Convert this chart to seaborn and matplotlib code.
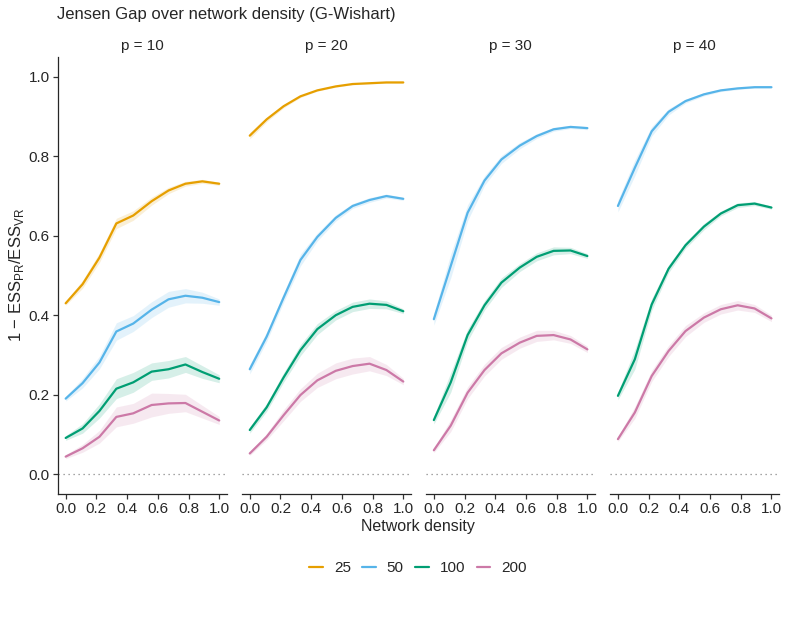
import pandas as pd
import matplotlib
matplotlib.use("Agg")
from matplotlib import pyplot as plt
from matplotlib.lines import Line2D
import seaborn as sns

# network density grid (x)
density = [0.0, 0.11, 0.22, 0.33, 0.44, 0.56, 0.67, 0.78, 0.89, 1.0]
panels = [10, 20, 30, 40]
sample_sizes = ["25", "50", "100", "200"]
colors = ["#E69F00", "#56B4E9", "#009E73", "#CC79A7"]

# mean Jensen gap per (p, n)
p10_n25 = [0.430, 0.478, 0.545, 0.631, 0.651, 0.687, 0.714, 0.731, 0.737, 0.731]
p10_n50 = [0.190, 0.229, 0.281, 0.359, 0.379, 0.414, 0.440, 0.449, 0.444, 0.433]
p10_n100 = [0.091, 0.115, 0.159, 0.215, 0.231, 0.258, 0.264, 0.276, 0.257, 0.240]
p10_n200 = [0.044, 0.065, 0.094, 0.144, 0.153, 0.174, 0.178, 0.179, 0.157, 0.135]

p20_n25 = [0.852, 0.893, 0.926, 0.951, 0.966, 0.976, 0.982, 0.984, 0.986, 0.986]
p20_n50 = [0.264, 0.346, 0.444, 0.539, 0.597, 0.645, 0.675, 0.690, 0.700, 0.693]
p20_n100 = [0.111, 0.168, 0.243, 0.312, 0.365, 0.400, 0.421, 0.429, 0.426, 0.410]
p20_n200 = [0.052, 0.094, 0.148, 0.199, 0.236, 0.260, 0.272, 0.278, 0.262, 0.233]

p30_n50 = [0.390, 0.524, 0.658, 0.739, 0.792, 0.827, 0.851, 0.868, 0.874, 0.871]
p30_n100 = [0.136, 0.231, 0.350, 0.425, 0.482, 0.520, 0.547, 0.562, 0.563, 0.549]
p30_n200 = [0.060, 0.122, 0.205, 0.262, 0.304, 0.331, 0.348, 0.350, 0.339, 0.314]

p40_n50 = [0.675, 0.771, 0.863, 0.912, 0.939, 0.956, 0.966, 0.971, 0.974, 0.974]
p40_n100 = [0.197, 0.289, 0.427, 0.517, 0.576, 0.623, 0.656, 0.677, 0.681, 0.671]
p40_n200 = [0.088, 0.155, 0.247, 0.310, 0.360, 0.394, 0.415, 0.425, 0.417, 0.392]

# ribbon half-widths
p10_n25_hw = [0.005, 0.010, 0.012, 0.013, 0.012, 0.010, 0.008, 0.006, 0.005, 0.004]
p10_n50_hw = [0.006, 0.012, 0.016, 0.022, 0.020, 0.020, 0.020, 0.018, 0.014, 0.008]
p10_n100_hw = [0.006, 0.012, 0.018, 0.025, 0.025, 0.022, 0.022, 0.020, 0.016, 0.010]
p10_n200_hw = [0.005, 0.010, 0.016, 0.025, 0.025, 0.030, 0.025, 0.022, 0.016, 0.010]

p20_n25_hw = [0.008, 0.006, 0.004, 0.003, 0.002, 0.002, 0.002, 0.002, 0.002, 0.002]
p20_n50_hw = [0.012, 0.012, 0.012, 0.015, 0.010, 0.008, 0.006, 0.006, 0.005, 0.004]
p20_n100_hw = [0.008, 0.010, 0.012, 0.014, 0.014, 0.012, 0.012, 0.012, 0.010, 0.006]
p20_n200_hw = [0.005, 0.008, 0.014, 0.016, 0.018, 0.020, 0.020, 0.018, 0.014, 0.008]

p30_n50_hw = [0.015, 0.030, 0.020, 0.012, 0.010, 0.008, 0.006, 0.005, 0.004, 0.004]
p30_n100_hw = [0.010, 0.025, 0.015, 0.012, 0.012, 0.010, 0.010, 0.010, 0.008, 0.006]
p30_n200_hw = [0.006, 0.015, 0.015, 0.015, 0.015, 0.014, 0.014, 0.012, 0.010, 0.008]

p40_n50_hw = [0.015, 0.020, 0.012, 0.008, 0.005, 0.004, 0.003, 0.003, 0.002, 0.002]
p40_n100_hw = [0.010, 0.025, 0.015, 0.010, 0.008, 0.008, 0.006, 0.006, 0.005, 0.004]
p40_n200_hw = [0.006, 0.015, 0.014, 0.014, 0.014, 0.012, 0.012, 0.012, 0.010, 0.008]

series = {
    (10, "25"): (p10_n25, p10_n25_hw),
    (10, "50"): (p10_n50, p10_n50_hw),
    (10, "100"): (p10_n100, p10_n100_hw),
    (10, "200"): (p10_n200, p10_n200_hw),
    (20, "25"): (p20_n25, p20_n25_hw),
    (20, "50"): (p20_n50, p20_n50_hw),
    (20, "100"): (p20_n100, p20_n100_hw),
    (20, "200"): (p20_n200, p20_n200_hw),
    (30, "50"): (p30_n50, p30_n50_hw),
    (30, "100"): (p30_n100, p30_n100_hw),
    (30, "200"): (p30_n200, p30_n200_hw),
    (40, "50"): (p40_n50, p40_n50_hw),
    (40, "100"): (p40_n100, p40_n100_hw),
    (40, "200"): (p40_n200, p40_n200_hw),
}

rows = []
for (p, n), (vals, hw) in series.items():
    for d, v, h in zip(density, vals, hw):
        rows.append({"p": p, "n": n, "density": d, "gap": v, "lo": v - h, "hi": v + h})
df = pd.DataFrame(rows)

sns.set_style("ticks")
plt.rcParams["font.family"] = ["Liberation Sans", "DejaVu Sans"]
palette = dict(zip(sample_sizes, colors))

fig, axes = plt.subplots(1, 4, figsize=(7.87, 6.17), dpi=100, sharey=True)
fig.subplots_adjust(left=0.0737, right=0.990, bottom=0.1994, top=0.9076, wspace=0.09)

ticks = [0.0, 0.2, 0.4, 0.6, 0.8, 1.0]
tick_labels = ["0.0", "0.2", "0.4", "0.6", "0.8", "1.0"]

for ax, p in zip(axes, panels):
    sub = df[df["p"] == p]
    for n in sample_sizes:
        s = sub[sub["n"] == n]
        if len(s):
            ax.fill_between(s["density"], s["lo"], s["hi"], color=palette[n],
                            alpha=0.16, linewidth=0)
    sns.lineplot(data=sub, x="density", y="gap", hue="n", hue_order=sample_sizes,
                 palette=palette, ax=ax, legend=False, linewidth=1.6)
    ax.axhline(0, color="#888888", ls=(0, (1, 3)), lw=0.9)
    ax.set_xlim(-0.05, 1.05)
    ax.set_ylim(-0.05, 1.05)
    ax.set_xticks(ticks)
    ax.set_xticklabels(tick_labels)
    ax.set_yticks(ticks)
    ax.set_yticklabels(tick_labels)
    ax.set_title(f"p = {p}", fontsize=11, pad=5)
    ax.set_xlabel("")
    ax.set_ylabel("")
    ax.tick_params(labelsize=11, length=3.5, width=0.9, color="#333333", pad=2.5)
    sns.despine(ax=ax, left=(p != 10))
    for sp in ax.spines.values():
        sp.set_linewidth(0.9)
    if p != 10:
        ax.tick_params(axis="y", left=False, labelleft=False)

axes[0].set_ylabel("1 \u2212 ESS$_{\\mathregular{PR}}$/ESS$_{\\mathregular{VR}}$", fontsize=12)
axes[0].yaxis.set_label_coords(-0.19, 0.5)

fig.text(57 / 787, 1 - 14 / 617, "Jensen Gap over network density (G-Wishart)",
         ha="left", va="center", fontsize=12)
fig.text(418 / 787, 1 - 526 / 617, "Network density", ha="center", va="center", fontsize=11.5)

handles = [Line2D([], [], color=palette[n], lw=1.6) for n in sample_sizes]
fig.legend(handles, sample_sizes, loc="center", bbox_to_anchor=(418 / 787, 1 - 568 / 617),
           ncol=4, frameon=False, fontsize=11, handlelength=0.9, columnspacing=0.75,
           handletextpad=0.7)

fig.savefig("out.png", dpi=100)
